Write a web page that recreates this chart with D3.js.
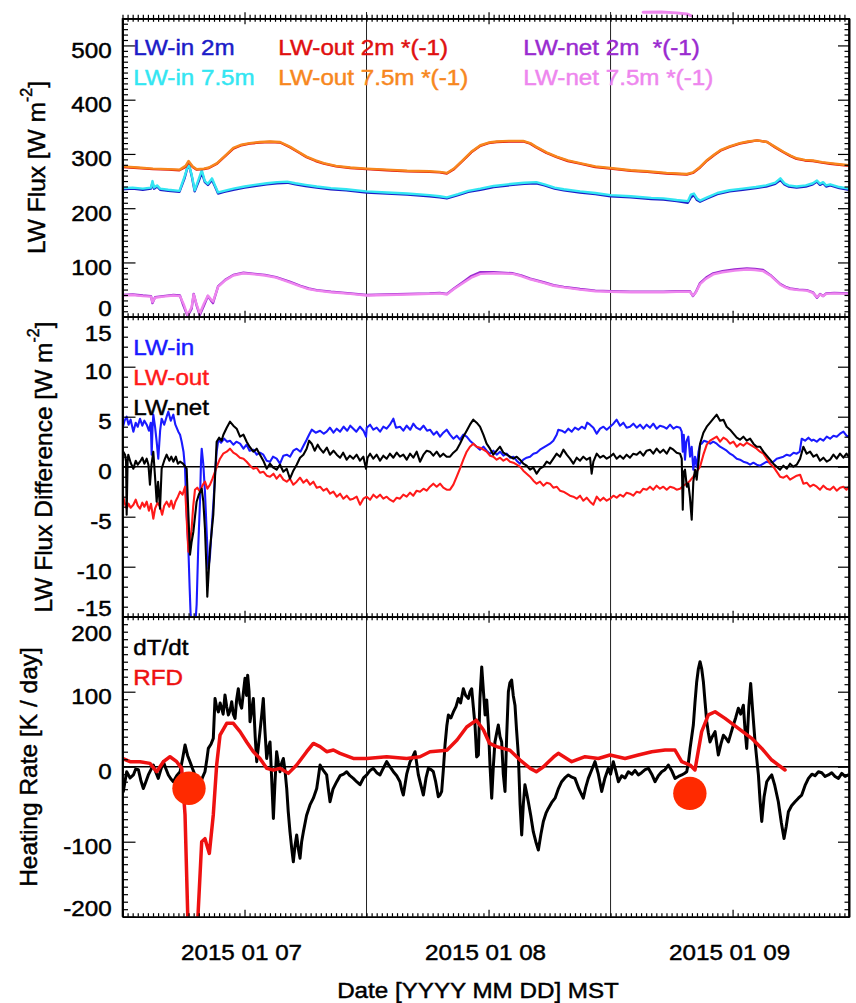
<!DOCTYPE html>
<html><head><meta charset="utf-8">
<script src="https://cdn.jsdelivr.net/npm/d3@7"></script>
<style>body{margin:0;background:#fff}svg{display:block}</style>
</head><body><svg id="chart" width="856" height="1003"></svg>
<script>
// ---------------- DATA (hours since 2015-01-07 00:00 MST, value) ----------------
const xTickHours = [12, 36, 60];
const xTickLabels = ["2015 01 07", "2015 01 08", "2015 01 09"];
const dayBoundaryHours = [24, 48];
const fluxTicks = [0, 100, 200, 300, 400, 500];
const diffTicks = [-15, -10, -5, 0, 5, 10, 15];
const heatTicks = [-200, -100, 0, 100, 200];

const lwIn2m = [[0,235],[1,236],[2,234],[2.8,236],[2.95,247],[3.1,236],[3.4,240],[3.7,234],[4.5,232],[5.6,230],[6.1,255],[6.5,283],[6.8,260],[7.1,231],[7.5,250],[7.8,266],[8.1,248],[8.4,243],[8.8,252],[9.1,240],[9.4,227],[10,230],[10.9,234],[12,238],[13,241],[14.2,244],[15.2,246],[16.2,247],[17,244],[18,241],[19.1,238],[20.5,235],[22,233],[24,229],[26,227],[28,225],[30.2,222],[31.2,220],[31.9,218],[33,224],[34,230],[35.2,234],[36.5,239],[38.4,243],[39.5,245],[40.7,246],[41.5,242],[42.5,236],[43.4,233],[45,229],[46.5,226],[48,222],[50,220],[52,217],[53.2,216],[54.5,213],[55.6,210],[55.9,220],[56.2,224],[56.5,215],[56.8,212],[57.5,218],[58.5,226],[59.7,231],[61,234],[62.3,237],[63.3,240],[64.2,245],[64.7,252],[65.1,244],[65.5,240],[66.3,238],[67.2,240],[67.9,244],[68.3,249],[68.6,243],[68.9,246],[69.2,240],[69.6,242],[70.5,237],[71.45,234]];
const lwIn75m = [[0,237],[1,238],[2,236],[2.8,238],[2.95,250],[3.1,238],[3.4,242],[3.7,236],[4.5,234],[5.6,232],[6.1,258],[6.5,282],[6.8,262],[7.1,233],[7.5,254],[7.8,270],[8.1,250],[8.4,245],[8.8,255],[9.1,242],[9.4,229],[10,232],[10.9,236],[12,240],[13,243],[14.2,246],[15.2,248],[16.2,249],[17,246],[18,243],[19.1,240],[20.5,237],[22,235],[24,231],[26,229],[28,227],[30.2,224],[31.2,222],[31.9,220],[33,226],[34,232],[35.2,236],[36.5,241],[38.4,245],[39.5,247],[40.7,248],[41.5,244],[42.5,238],[43.4,235],[45,231],[46.5,228],[48,224],[50,222],[52,219],[53.2,218],[54.5,215],[55.6,213],[55.9,225],[56.2,227],[56.5,218],[56.8,214],[57.5,220],[58.5,228],[59.7,233],[61,236],[62.3,239],[63.3,242],[64.2,247],[64.7,255],[65.1,246],[65.5,242],[66.3,240],[67.2,242],[67.9,246],[68.3,251],[68.6,245],[68.9,248],[69.2,242],[69.6,244],[70.5,239],[71.45,236]];
const lwOut2m = [[0,276],[1.5,274],[3,272],[4.5,271],[5.6,270],[6.2,276],[6.5,285],[6.9,276],[7.3,271],[8,272],[8.5,274],[9.3,282],[10.1,296],[10.9,310],[11.7,316],[12.5,319],[13.5,321],[14.5,322],[15.5,321],[16.5,312],[17.3,303],[18.1,294],[19,287],[19.8,282],[21,277],[22.4,274],[24,272],[26,270],[28,268],[30.2,267],[31.2,266],[31.9,264],[32.6,272],[33.5,288],[34.3,303],[35.2,315],[36,320],[36.8,322],[38,323],[39.4,323],[40.1,319],[40.7,312],[41.7,302],[42.7,294],[43.8,287],[45,282],[46.5,276],[48,273],[50,269],[51.6,267],[53.5,264],[55.5,262],[56.1,265],[56.8,275],[57.5,288],[58.2,298],[58.8,306],[59.7,313],[60.7,319],[61.5,322],[62.4,325],[63.4,322],[64.2,312],[65,303],[65.7,296],[66.3,291],[67.1,288],[67.9,287],[68.8,284],[69.6,282],[70.5,280],[71.45,278]];
const lwOut75m = [[0,277],[1.5,275],[3,273],[4.5,272],[5.6,271],[6.2,278],[6.5,287],[6.9,277],[7.3,272],[8,273],[8.5,275],[9.3,283],[10.1,297],[10.9,311],[11.7,317],[12.5,320],[13.5,322],[14.5,323],[15.5,322],[16.5,313],[17.3,304],[18.1,295],[19,288],[19.8,283],[21,278],[22.4,275],[24,273],[26,271],[28,269],[30.2,268],[31.2,267],[31.9,265],[32.6,273],[33.5,289],[34.3,304],[35.2,316],[36,321],[36.8,323],[38,324],[39.4,324],[40.1,320],[40.7,313],[41.7,303],[42.7,295],[43.8,288],[45,283],[46.5,277],[48,274],[50,270],[51.6,268],[53.5,265],[55.5,263],[56.1,266],[56.8,276],[57.5,289],[58.2,299],[58.8,307],[59.7,314],[60.7,320],[61.5,323],[62.4,325],[63.4,322],[64.2,313],[65,304],[65.7,297],[66.3,292],[67.1,289],[67.9,288],[68.8,285],[69.6,283],[70.5,281],[71.45,279]];
const lwNet2m = [[0,40],[1,41],[2,39],[2.8,38],[2.95,25],[3.2,36],[4,38],[5,40],[5.65,39],[6.0,20],[6.4,1],[6.8,15],[7.0,42],[7.3,20],[7.6,3],[8.0,20],[8.4,38],[8.7,30],[8.9,25],[9.4,56],[10.1,68],[10.9,77],[11.9,81],[13,79],[14,77],[15.1,73],[16.5,64],[17.5,57],[18.3,52],[19.1,49],[20.5,46],[22.4,43],[24,40],[26,41],[28,42],[30.2,43],[31.2,44],[31.9,42],[32.6,52],[33.5,64],[34.3,75],[35.2,82],[36.5,82],[38.4,80],[39.2,76],[40.1,70],[41.5,63],[42.4,58],[43.4,55],[45,51],[46.5,48],[48,47],[50,46],[52,46],[53.2,46],[54.5,47],[55.8,47],[56.1,38],[56.4,46],[56.8,62],[57.4,72],[58.1,80],[59,84],[60.2,87],[61.4,89],[62.2,88],[63,86],[63.7,77],[64.7,60],[65.2,55],[65.65,52],[66.5,50],[67.3,49],[67.9,45],[68.3,35],[68.6,42],[68.9,38],[69.2,43],[70,44],[71.45,43]];
const lwNet75m = [[0,39],[1,40],[2,38],[2.8,37],[2.95,27],[3.2,35],[4,37],[5,39],[5.65,38],[6.0,24],[6.4,3],[6.8,18],[7.0,41],[7.3,22],[7.6,6],[8.0,24],[8.4,39],[8.7,32],[8.9,28],[9.4,55],[10.1,67],[10.9,76],[11.9,80],[13,78],[14,76],[15.1,72],[16.5,63],[17.5,56],[18.3,51],[19.1,48],[20.5,45],[22.4,42],[24,39],[26,40],[28,41],[30.2,42],[31.2,43],[31.9,41],[32.6,51],[33.5,62],[34.3,72],[35.2,79],[36.5,80],[38.4,79],[39.2,75],[40.1,69],[41.5,62],[42.4,57],[43.4,54],[45,50],[46.5,47],[48,46],[50,45],[52,45],[53.2,45],[54.5,46],[55.8,46],[56.1,39],[56.4,45],[56.8,60],[57.4,70],[58.1,78],[59,82],[60.2,85],[61.4,87],[62.2,86],[63,84],[63.7,76],[64.7,59],[65.2,54],[65.65,51],[66.5,49],[67.3,48],[67.9,44],[68.3,36],[68.6,41],[68.9,38],[69.2,42],[70,43],[71.45,42]];
const lwNet75mAbove = [[51.2,561],[53,561.5],[54.5,560],[55.5,558],[55.9,555]];

const diffIn = [[0,3.8],[0.2,4.6],[0.41,5.0],[0.6,4.2],[0.8,4.7],[1.07,3.5],[1.3,4.4],[1.5,4.0],[1.72,4.8],[1.95,4.1],[2.15,4.6],[2.38,4.2],[2.6,3.6],[2.78,4.4],[2.87,1.2],[2.95,3.8],[3.03,5.2],[3.2,4.0],[3.36,2.5],[3.52,0.8],[3.7,3.6],[3.85,4.8],[4.1,4.2],[4.34,5.0],[4.51,5.5],[4.75,4.6],[5.0,5.2],[5.2,4.2],[5.49,3.5],[5.66,3.2],[5.82,2.5],[6.0,1.5],[6.15,-0.2],[6.3,-4.5],[6.48,-8.2],[6.6,-12],[6.7,-14.8],[6.9,-16.2],[7.03,-15.5],[7.15,-16],[7.29,-13.8],[7.45,-8],[7.62,-3.5],[7.72,0.5],[7.79,1.8],[7.95,0.2],[8.11,-2.5],[8.3,-7],[8.44,-10.2],[8.6,-9],[8.77,-6.2],[8.95,-3.5],[9.1,-0.8],[9.26,1.5],[9.43,2.7],[9.7,2.4],[10.0,2.8],[10.3,2.5],[10.57,2.6],[10.9,2.2],[11.2,2.5],[11.56,2.3],[11.9,1.8],[12.2,2.2],[12.5,1.6],[12.87,1.7],[13.2,1.2],[13.52,1.4],[13.85,1.2],[14.18,0.6],[14.51,0.5],[14.8,1.0],[15.16,0.8],[15.49,0.3],[15.82,1.1],[16.15,1.2],[16.47,1.0],[16.8,1.6],[17.13,1.8],[17.5,1.5],[17.8,2.1],[18.11,2.7],[18.35,3.2],[18.61,3.7],[19.0,3.4],[19.43,3.6],[19.8,3.3],[20.08,3.5],[20.4,3.9],[20.75,3.4],[21.07,3.8],[21.4,3.5],[21.75,4.0],[22.1,3.6],[22.4,4.1],[22.7,3.8],[23.0,3.5],[23.36,4.0],[23.7,3.6],[23.95,3.0],[24.02,3.9],[24.35,4.2],[24.67,3.7],[25.0,3.9],[25.33,3.5],[25.65,4.0],[25.98,3.8],[26.3,4.2],[26.64,4.8],[26.9,3.9],[27.29,4.0],[27.62,3.6],[27.95,4.1],[28.3,3.7],[28.6,4.3],[28.9,3.9],[29.26,3.7],[29.6,4.1],[29.95,3.6],[30.24,3.7],[30.6,3.2],[30.9,3.5],[31.23,3.0],[31.55,3.4],[31.88,3.7],[32.21,3.2],[32.54,2.8],[32.87,3.1],[33.19,2.7],[33.52,3.2],[33.85,3.0],[34.17,2.6],[34.5,2.3],[34.83,2.0],[35.16,1.7],[35.5,2.0],[35.81,1.6],[36.14,1.3],[36.47,1.6],[36.8,1.2],[37.13,1.5],[37.46,1.1],[37.79,1.3],[38.11,0.9],[38.44,1.0],[38.77,0.6],[39.09,0.3],[39.42,0.7],[39.75,0.9],[40.08,1.0],[40.41,1.3],[40.73,1.4],[41.06,1.7],[41.39,1.9],[41.72,2.1],[42.04,2.3],[42.37,2.6],[42.7,3.2],[42.86,3.7],[43.2,3.6],[43.52,3.4],[43.85,3.8],[44.18,3.5],[44.5,3.9],[44.83,3.7],[45.16,4.0],[45.48,3.8],[45.7,4.4],[45.98,4.2],[46.31,3.9],[46.64,3.3],[46.97,3.8],[47.3,4.0],[47.62,3.7],[47.95,4.0],[48.28,4.3],[48.6,4.7],[48.93,4.1],[49.26,4.4],[49.58,3.9],[49.91,4.0],[50.24,4.3],[50.57,3.9],[50.9,4.2],[51.22,3.8],[51.55,4.2],[51.88,3.9],[52.2,4.3],[52.53,3.8],[52.86,4.1],[53.19,4.0],[53.52,3.8],[53.85,4.2],[54.18,3.8],[54.5,4.0],[54.83,3.9],[55.0,3.5],[55.1,1.5],[55.2,3.2],[55.32,0.7],[55.45,2.5],[55.65,3.0],[55.82,1.0],[55.98,2.0],[56.14,-0.3],[56.3,1.0],[56.47,0],[56.65,1.5],[56.8,2.2],[56.96,2.3],[57.2,2.6],[57.46,2.5],[57.8,2.3],[58.1,2.5],[58.44,2.3],[58.77,2.0],[59.1,1.8],[59.42,1.6],[59.75,1.3],[60.08,1.1],[60.41,0.8],[60.73,0.7],[61.06,0.5],[61.39,0.4],[61.72,0.2],[62.05,0.4],[62.37,0.2],[62.7,0.1],[63.03,0.3],[63.36,0.5],[63.69,0.4],[64.01,0.5],[64.34,0.8],[64.67,0.9],[65.0,1.0],[65.33,1.2],[65.65,1.1],[66.0,1.4],[66.31,1.3],[66.6,1.5],[66.8,2.8],[67.13,2.6],[67.46,2.9],[67.79,2.6],[67.95,2.7],[68.28,2.5],[68.6,2.8],[68.93,2.6],[69.26,3.0],[69.59,2.8],[69.92,3.1],[70.24,3.0],[70.57,3.3],[70.9,3.5],[71.2,3.1],[71.45,3.0]];
const diffOut = [[0,-2.7],[0.2,-3.6],[0.41,-4.2],[0.6,-3.7],[0.8,-4.1],[1.07,-3.8],[1.3,-3.3],[1.5,-3.9],[1.72,-4.2],[1.95,-3.6],[2.15,-4.0],[2.38,-3.5],[2.6,-4.4],[2.8,-3.7],[3.03,-5.2],[3.2,-4.2],[3.45,-3.6],[3.69,-4.0],[3.9,-4.8],[4.1,-3.9],[4.34,-3.5],[4.6,-4.0],[4.8,-3.4],[5.0,-4.2],[5.2,-3.5],[5.45,-3.0],[5.66,-2.5],[5.9,-2.8],[6.15,-2.0],[6.3,-5.0],[6.48,-8.5],[6.65,-7.5],[6.8,-6.2],[6.95,-4],[7.13,-2.3],[7.35,-2.1],[7.62,-2.5],[7.85,-1.9],[8.11,-1.5],[8.35,-2.2],[8.61,-1.8],[8.85,-1.2],[9.1,-0.5],[9.35,0.2],[9.59,0.8],[9.9,1.3],[10.25,1.5],[10.57,1.8],[10.9,1.4],[11.23,1.2],[11.55,0.9],[11.9,0.8],[12.21,0.5],[12.55,0.1],[12.87,-0.2],[13.2,-0.1],[13.52,-0.6],[13.85,-0.5],[14.18,-0.9],[14.51,-1.0],[14.85,-0.7],[15.16,-1.2],[15.49,-0.8],[15.82,-1.3],[16.15,-1.5],[16.47,-1.2],[16.8,-1.8],[17.13,-1.5],[17.46,-1.1],[17.79,-1.6],[18.11,-1.3],[18.44,-1.8],[18.77,-1.5],[19.1,-2.1],[19.43,-2.0],[19.76,-2.4],[20.08,-2.2],[20.41,-2.7],[20.74,-2.5],[21.07,-3.0],[21.4,-2.7],[21.72,-3.2],[22.05,-2.9],[22.37,-3.3],[22.7,-3.2],[23.03,-3.0],[23.36,-3.8],[23.69,-3.2],[24.02,-3.0],[24.35,-3.3],[24.67,-2.8],[25.0,-3.1],[25.33,-2.8],[25.65,-3.2],[25.98,-3.0],[26.3,-3.3],[26.64,-3.5],[26.97,-3.1],[27.29,-3.2],[27.62,-2.8],[27.95,-3.0],[28.28,-2.6],[28.6,-2.9],[28.93,-2.4],[29.26,-2.5],[29.6,-2.2],[29.92,-2.4],[30.24,-2.0],[30.57,-1.7],[30.9,-2.0],[31.23,-1.7],[31.55,-2.1],[31.88,-2.3],[32.21,-2.3],[32.54,-1.8],[32.87,-1.0],[33.19,-0.2],[33.52,0.7],[33.85,1.5],[34.17,2.0],[34.5,2.3],[34.83,2.0],[35.16,1.9],[35.49,1.7],[35.81,1.5],[36.14,1.1],[36.47,1.0],[36.8,0.7],[37.13,0.9],[37.46,0.6],[37.79,0.8],[38.11,0.5],[38.44,0.4],[38.77,0.2],[39.09,0.0],[39.42,-0.4],[39.75,-0.7],[40.08,-1.0],[40.41,-1.4],[40.73,-1.7],[41.06,-1.5],[41.39,-1.9],[41.72,-1.6],[42.04,-1.7],[42.37,-2.1],[42.7,-2.0],[43.03,-2.4],[43.36,-2.5],[43.69,-2.7],[44.01,-2.9],[44.34,-3.0],[44.67,-3.2],[45.0,-2.9],[45.32,-3.4],[45.65,-3.1],[45.98,-3.5],[46.31,-3.8],[46.64,-3.0],[46.97,-3.4],[47.3,-3.1],[47.62,-3.4],[47.95,-3.2],[48.28,-2.9],[48.6,-3.1],[48.93,-2.8],[49.26,-3.0],[49.58,-2.6],[49.91,-2.7],[50.24,-2.9],[50.57,-2.5],[50.9,-2.6],[51.22,-2.2],[51.55,-2.3],[51.88,-2.0],[52.2,-2.3],[52.53,-1.9],[52.86,-2.2],[53.19,-2.0],[53.52,-2.3],[53.85,-2.0],[54.18,-2.1],[54.5,-2.3],[54.83,-2.2],[55.16,-1.9],[55.49,-1.7],[55.82,-1.4],[56.14,-1.0],[56.47,-0.5],[56.8,0],[57.13,1.2],[57.46,2.2],[57.79,2.6],[58.11,2.8],[58.44,3.0],[58.77,2.5],[59.1,2.9],[59.42,2.7],[59.75,2.3],[60.08,2.5],[60.41,2.0],[60.73,2.3],[61.06,2.1],[61.39,2.4],[61.72,2.2],[62.05,2.0],[62.37,1.8],[62.7,1.5],[63.03,1.3],[63.36,0.8],[63.69,0.3],[64.01,0],[64.34,-0.5],[64.67,-1.0],[65.0,-1.1],[65.33,-0.9],[65.65,-1.3],[65.98,-1.1],[66.31,-0.9],[66.64,-0.8],[66.96,-1.7],[67.29,-1.6],[67.62,-2.0],[67.95,-1.8],[68.28,-2.0],[68.6,-2.3],[68.93,-1.9],[69.26,-2.2],[69.59,-2.3],[69.92,-2.0],[70.24,-2.4],[70.57,-2.1],[70.9,-2.0],[71.2,-2.3],[71.45,-2.0]];
const diffNet = [[0,0.8],[0.08,1.5],[0.25,1.2],[0.35,0.5],[0.41,-4.8],[0.5,0.5],[0.57,1.2],[0.8,0.4],[1.07,-0.2],[1.3,0.6],[1.5,0.2],[1.72,0.5],[1.95,0.9],[2.15,0.3],[2.38,0.8],[2.55,0.2],[2.7,-1.8],[2.85,0.2],[3.03,1.5],[3.2,-1.0],[3.36,-3.5],[3.5,-1.5],[3.69,-4.2],[3.85,-0.2],[4.1,0.6],[4.34,1.2],[4.6,0.6],[4.8,1.0],[5.0,0.5],[5.25,1.0],[5.45,0.3],[5.66,0.5],[5.95,0.3],[6.31,-0.2],[6.45,-4],[6.64,-8.8],[6.8,-7.5],[6.97,-6.5],[7.13,-5],[7.29,-3.5],[7.5,-2.8],[7.79,-2.2],[7.95,-3.5],[8.11,-6.2],[8.25,-10],[8.34,-13],[8.45,-11],[8.61,-8.2],[8.77,-6.5],[8.93,-4.8],[9.1,-1.0],[9.26,2.5],[9.5,2.9],[9.75,2.6],[9.92,3.2],[10.25,3.9],[10.57,4.5],[10.9,4.1],[11.23,3.8],[11.56,3.0],[11.9,3.2],[12.21,2.5],[12.5,2.0],[12.87,1.5],[13.2,1.8],[13.52,1.2],[13.85,0.6],[14.18,-0.2],[14.5,0.3],[14.84,-0.1],[15.16,-0.3],[15.49,0.2],[15.82,-0.5],[16.15,-0.2],[16.47,-1.2],[16.8,-0.4],[17.13,0.2],[17.46,0.9],[17.79,1.2],[18.11,1.8],[18.35,2.6],[18.61,2.3],[18.9,1.6],[19.2,2.2],[19.43,1.8],[19.75,1.4],[20.1,1.9],[20.4,1.2],[20.75,1.6],[21.07,1.2],[21.4,0.9],[21.7,1.4],[22.05,0.7],[22.37,1.1],[22.7,0.8],[23.03,1.2],[23.36,0.6],[23.69,1.0],[23.95,-0.2],[24.1,0.9],[24.35,1.3],[24.67,0.8],[25.0,1.2],[25.33,0.6],[25.65,1.1],[25.98,0.8],[26.3,1.3],[26.64,0.9],[26.97,1.4],[27.29,1.0],[27.62,1.2],[27.95,0.7],[28.28,1.3],[28.6,0.9],[28.93,1.5],[29.26,0.5],[29.6,1.2],[29.92,1.6],[30.24,1.5],[30.57,1.1],[30.9,1.5],[31.23,1.0],[31.55,1.3],[31.88,1.0],[32.21,1.0],[32.54,1.4],[32.87,1.7],[33.19,2.3],[33.52,3.0],[33.85,3.6],[34.17,4.2],[34.5,4.7],[34.83,4.4],[35.16,4.0],[35.49,3.2],[35.81,2.3],[36.14,1.8],[36.47,1.2],[36.8,1.6],[37.13,2.0],[37.46,1.4],[37.79,1.2],[38.11,1.0],[38.44,0.8],[38.77,1.0],[39.09,0.7],[39.42,0.3],[39.75,0.1],[40.08,-0.3],[40.41,-0.1],[40.73,-0.7],[41.06,-0.2],[41.39,0],[41.72,0.5],[42.04,0.3],[42.37,0.8],[42.7,1.3],[43.03,1.0],[43.36,1.7],[43.69,1.2],[44.01,0.8],[44.34,0.3],[44.67,0.9],[45.0,0.6],[45.32,1.0],[45.65,0.7],[45.98,0.9],[46.14,-0.7],[46.31,0.5],[46.64,1.3],[46.97,0.9],[47.3,1.1],[47.62,0.8],[47.95,1.0],[48.28,1.3],[48.6,0.8],[48.93,1.1],[49.26,0.8],[49.58,1.2],[49.91,0.9],[50.24,1.3],[50.57,1.2],[50.9,1.5],[51.22,1.1],[51.55,1.6],[51.88,1.7],[52.2,1.3],[52.53,1.8],[52.86,1.4],[53.19,1.7],[53.52,1.3],[53.85,1.9],[54.18,1.7],[54.5,1.4],[54.83,1.3],[55.0,0.8],[55.1,-4.3],[55.2,-0.5],[55.32,-0.3],[55.5,-2.0],[55.65,-1.7],[55.8,-3.0],[55.98,-5.3],[56.14,-1.5],[56.31,-0.3],[56.47,-1.3],[56.65,0.5],[56.8,2.3],[57.13,3.4],[57.46,4.0],[57.79,4.4],[58.11,4.8],[58.44,5.2],[58.77,4.6],[59.1,4.7],[59.42,4.0],[59.75,3.7],[60.08,3.3],[60.41,2.9],[60.73,2.7],[61.06,3.0],[61.39,2.6],[61.72,2.8],[62.05,2.3],[62.37,2.0],[62.7,2.0],[63.03,1.5],[63.36,1.1],[63.69,0.7],[64.01,0.3],[64.34,0],[64.67,-0.3],[65.0,0.1],[65.33,-0.2],[65.65,0.3],[65.98,0.0],[66.31,0.2],[66.64,0.8],[66.96,2.0],[67.29,1.3],[67.62,1.5],[67.95,1.0],[68.28,1.2],[68.6,0.6],[68.93,0.9],[69.26,0.5],[69.59,0.7],[69.92,1.2],[70.24,0.8],[70.57,1.3],[70.9,0.9],[71.2,1.3],[71.45,1.0]];

const dTdt = [[0,-20],[0.08,-33],[0.41,-6.7],[0.75,-15],[1.07,-11],[1.3,-3],[1.56,-4],[1.8,-18],[2.05,-29],[2.3,-20],[2.54,-11],[2.8,-4],[3.03,2.2],[3.3,-8],[3.52,-15.6],[3.75,-5],[4.02,6.7],[4.25,-2],[4.51,-11],[4.75,-16],[5.0,-20],[5.33,-12],[5.66,-6.7],[5.9,10],[6.15,29],[6.4,15],[6.64,6.7],[6.9,-3],[7.13,-11],[7.4,-18],[7.62,-24],[7.85,-15],[8.11,-6.7],[8.3,10],[8.44,24.4],[8.7,30],[8.93,37.8],[9.1,91],[9.25,80],[9.43,73],[9.6,85],[9.75,78],[9.9,70],[10.08,95.6],[10.25,80],[10.41,69],[10.58,75],[10.74,86.7],[10.9,70],[11.07,64.4],[11.23,90],[11.39,104],[11.55,85],[11.72,78],[11.9,100],[12.05,118],[12.2,95],[12.31,122],[12.45,100],[12.54,60],[12.7,75],[12.87,91],[13.05,40],[13.2,6.7],[13.35,25],[13.52,46.7],[13.7,70],[13.85,91],[14.0,50],[14.18,11],[14.35,25],[14.51,33],[14.65,-10],[14.84,-69],[15.0,-20],[15.16,20],[15.33,5],[15.49,-6.7],[15.65,5],[15.82,11],[15.98,-5],[16.15,-29],[16.3,-60],[16.47,-86.7],[16.65,-110],[16.8,-126.7],[16.97,-105],[17.13,-91],[17.3,-110],[17.46,-122],[17.62,-100],[17.79,-86.7],[18.1,-65],[18.44,-51],[18.77,-42],[19.1,-29],[19.25,-15],[19.43,2.2],[19.75,-5],[20.08,-11],[20.25,-30],[20.41,-46.7],[20.7,-30],[21.07,-20],[21.4,-12],[21.75,-10],[22.05,-6.7],[22.37,-12],[22.7,-15.6],[23.03,-20],[23.36,-24],[23.7,-15],[24.02,-11],[24.35,-5],[24.67,-2.2],[25.0,-8],[25.33,-11],[25.65,-2],[25.98,6.7],[26.3,0],[26.64,-6.7],[26.97,-12],[27.29,-20],[27.45,-30],[27.62,-37.8],[27.95,-10],[28.28,6.7],[28.5,12],[28.77,20],[28.93,5],[29.1,-11],[29.35,-25],[29.59,-37.8],[29.85,-15],[30.08,-2.2],[30.35,-4],[30.57,-6.7],[30.8,-20],[31.06,-40],[31.22,-38],[31.39,-33],[31.55,-5],[31.72,29],[31.9,55],[32.05,69],[32.3,65],[32.54,73],[32.8,80],[33.03,91],[33.25,85],[33.52,104],[33.75,95],[34.02,91],[34.18,100],[34.34,104],[34.5,80],[34.67,55.6],[34.83,13],[35.0,15.6],[35.15,90],[35.33,133],[35.5,100],[35.66,69],[35.82,89],[35.98,55.6],[36.15,0],[36.31,-42],[36.47,0],[36.63,33],[36.8,45],[36.96,55.6],[37.13,40],[37.29,33],[37.45,-10],[37.62,-33],[37.78,40],[37.95,100],[38.1,112],[38.27,115.6],[38.43,95],[38.6,82],[38.75,50],[38.93,15.6],[39.1,-50],[39.26,-91],[39.42,-50],[39.58,-24],[39.75,-35],[39.91,-46.7],[40.15,-65],[40.4,-86.7],[40.65,-100],[40.9,-111],[41.15,-90],[41.39,-73],[41.65,-62],[41.88,-55.6],[42.2,-48],[42.54,-42],[42.85,-30],[43.19,-20],[43.5,-15],[43.85,-11],[44.2,-14],[44.5,-15.6],[44.9,-30],[45.32,-42],[45.55,-28],[45.81,-15.6],[46.15,-4],[46.47,6.7],[46.8,-10],[47.13,-33],[47.45,-15],[47.78,-2.2],[48.0,-10],[48.27,6.7],[48.5,-5],[48.77,-20],[49.1,-12],[49.42,-15],[49.75,-6.7],[50.1,-10],[50.4,-5],[50.73,-11],[51.05,-8],[51.4,-4],[51.72,-2.2],[52.05,-10],[52.37,-20],[52.7,-12],[53.03,-6.7],[53.35,-4],[53.68,2.2],[54.0,-5],[54.34,-15.6],[54.67,-13],[55.0,-11],[55.25,-9],[55.49,-6.7],[55.65,5],[55.82,24.4],[55.98,40],[56.14,55.6],[56.3,85],[56.47,113],[56.63,130],[56.8,140],[56.97,130],[57.13,113],[57.3,85],[57.46,60],[57.62,45],[57.78,33],[58.0,40],[58.28,46.7],[58.45,30],[58.6,15.6],[58.85,30],[59.1,42],[59.35,38],[59.59,33],[59.85,45],[60.08,55.6],[60.3,65],[60.57,78],[60.8,70],[61.06,82],[61.22,50],[61.39,24.4],[61.6,80],[61.78,111],[62.0,70],[62.21,33],[62.38,10],[62.54,-11],[62.7,-45],[62.87,-73],[63.1,-40],[63.36,-20],[63.6,-15],[63.85,-11],[64.15,-25],[64.5,-46.7],[64.8,-75],[65.06,-95.6],[65.27,-80],[65.49,-60],[65.8,-52],[66.14,-46.7],[66.47,-42],[66.8,-37.8],[67.13,-25],[67.46,-15.6],[67.8,-10],[68.11,-12],[68.44,-6.7],[68.77,-8],[69.1,-13],[69.42,-11],[69.75,-8],[70.08,-13],[70.41,-15.6],[70.74,-9],[71.07,-13],[71.39,-11]];
const rfd = [[0,11],[0.74,6.7],[1.72,6.7],[2.7,4.4],[3.36,-6.7],[4.02,6.7],[4.67,13.3],[5.33,6.7],[5.82,-2.2],[6.15,-64],[6.45,-215],[7.2,-215],[7.4,-205],[7.79,-100],[8.11,-96],[8.54,-115.6],[8.93,-64],[9.26,2.2],[9.59,42],[10.25,57.8],[10.9,57.8],[11.56,46.7],[12.21,33],[12.87,20],[13.52,11],[14.18,-2.2],[14.84,-4.4],[15.49,-2.2],[16.31,-8.9],[17.13,2.2],[18.11,20],[18.77,31],[19.43,26.7],[20.08,20],[20.74,22.2],[21.39,17.8],[22.7,11],[24.02,11],[25.98,13.3],[27.95,11],[29.26,13.3],[30.24,20],[31.9,22],[32.9,35.6],[33.85,53],[34.8,62],[35.5,49],[36.1,31],[36.8,26.7],[38.1,22],[39.1,8.9],[40.1,-2.2],[40.7,-6.7],[41.4,0],[42.4,13],[42.86,17.8],[44.18,6.7],[45.49,13.3],[46.8,11],[47.95,15.6],[49.42,11],[50.73,15.6],[52.05,20],[53.36,22.2],[54.34,22.2],[55.0,6.7],[55.82,2.2],[56.3,-4.4],[56.96,46.7],[57.62,69],[58.28,73.3],[59.26,64.4],[60.57,51],[61.88,37.8],[62.87,24.4],[63.85,8.9],[65.16,-4.4]];
const markedEvents = [[6.54,-28.8],[55.8,-35.5]];

// ---------------- LAYOUT ----------------
const FONT = "'Liberation Sans', Arial, Helvetica, sans-serif";
const FS = 22, SX = 1.1, TSW = 0.45;
const X0 = 122.5, X1 = 849;
const svg = d3.select("#chart");
svg.append("rect").attr("width",856).attr("height",1003).attr("fill","#fff");

const x = d3.scaleLinear().domain([0, 71.45]).range([X0, X1]);
const yFlux = d3.scaleLinear().domain([0, 550]).range([316.7, 18.3]);
const yDiff = d3.scaleLinear().domain([-15, 15]).range([616.7, 316.7]);
const yHeat = d3.scaleLinear().domain([-200, 200]).range([916.7, 616.7]);

function htext(x0, y0, str, color, anchor, fs) {
  return svg.append("text")
    .attr("transform", `translate(${x0},${y0}) scale(${SX},1)`)
    .attr("text-anchor", anchor || "start")
    .attr("font-family", FONT).attr("font-size", fs || FS)
    .attr("fill", color || "#000").attr("stroke", color || "#000").attr("stroke-width", TSW)
    .style("white-space", "pre").text(str);
}

const defs = svg.append("defs");
[["cFlux", yFlux], ["cDiff", yDiff], ["cHeat", yHeat]].forEach(([id, y]) => {
  const r = y.range();
  defs.append("clipPath").attr("id", id).append("rect")
    .attr("x", X0).attr("y", r[1]).attr("width", X1 - X0).attr("height", r[0] - r[1]);
});

function drawLine(data, y, color, width, clip) {
  const line = d3.line().x(d => x(d[0])).y(d => y(d[1]));
  const p = svg.append("path").datum(data).attr("d", line)
    .attr("fill", "none").attr("stroke", color).attr("stroke-width", width)
    .attr("stroke-linejoin", "round").attr("stroke-linecap", "round");
  if (clip) p.attr("clip-path", `url(#${clip})`);
  return p;
}

dayBoundaryHours.forEach(h => {
  svg.append("line").attr("x1", x(h)).attr("x2", x(h)).attr("y1", 12).attr("y2", 916.7)
    .attr("stroke", "#222").attr("stroke-width", 1);
});
[yDiff, yHeat].forEach(y => {
  svg.append("line").attr("x1", X0).attr("x2", X1).attr("y1", y(0)).attr("y2", y(0))
    .attr("stroke", "#000").attr("stroke-width", 1.6);
});

drawLine(lwIn2m, yFlux, "#1c1cc8", 2.4, "cFlux");
drawLine(lwIn75m, yFlux, "#33e6f2", 2.4, "cFlux");
drawLine(lwOut2m, yFlux, "#e01010", 2.4, "cFlux");
drawLine(lwOut75m, yFlux, "#f7871e", 2.4, "cFlux");
drawLine(lwNet2m, yFlux, "#9a2bd0", 2.4, "cFlux");
drawLine(lwNet75m, yFlux, "#ee86ee", 2.4, "cFlux");
drawLine(lwNet75mAbove, yFlux, "#ee86ee", 3, null);

drawLine(diffIn, yDiff, "#1a1aff", 2.1, "cDiff");
drawLine(diffOut, yDiff, "#ff1a1a", 2.1, "cDiff");
drawLine(diffNet, yDiff, "#000", 2.1, "cDiff");

drawLine(dTdt, yHeat, "#000", 3, "cHeat");
drawLine(rfd, yHeat, "#ee1111", 3.5, "cHeat");
svg.selectAll("circle.ev").data(markedEvents).enter().append("circle").attr("class","ev")
  .attr("cx", d => x(d[0])).attr("cy", d => yHeat(d[1])).attr("r", 16.7).attr("fill", "#ff2a00");

function styleAxis(g) {
  g.select(".domain").attr("stroke", "#000").attr("stroke-width", 1.6);
  g.selectAll(".tick line").attr("stroke", "#000").attr("stroke-width", 1.2);
}
function labelOff(v, d) { if (v === d[1]) return 24; if (v === d[0]) return -1; return 12; }

function drawYAxes(y, ticks, step) {
  const d = y.domain();
  const minors = d3.range(d[0], d[1] + step / 2, step).filter(v => !ticks.some(t => Math.abs(t - v) < 1e-6));
  const gm = svg.append("g").attr("transform", `translate(${X0},0)`)
    .call(d3.axisLeft(y).tickValues(minors).tickSize(-5.5).tickSizeOuter(0).tickFormat(""));
  styleAxis(gm);
  const gL = svg.append("g").attr("transform", `translate(${X0},0)`)
    .call(d3.axisLeft(y).tickValues(ticks).tickSize(-13).tickSizeOuter(0).tickFormat(v => String(v)));
  styleAxis(gL);
  gL.selectAll(".tick text").attr("x", 0).attr("dy", null)
    .attr("transform", v => `translate(-10.8,${labelOff(v, d)}) scale(${SX},1)`)
    .attr("font-size", FS).attr("font-family", FONT).attr("fill", "#000")
    .attr("stroke", "#000").attr("stroke-width", TSW);
  const gr = svg.append("g").attr("transform", `translate(${X1},0)`)
    .call(d3.axisRight(y).tickValues(minors).tickSize(-4.5).tickSizeOuter(0).tickFormat(""));
  styleAxis(gr);
  const gR = svg.append("g").attr("transform", `translate(${X1},0)`)
    .call(d3.axisRight(y).tickValues(ticks).tickSize(-11).tickSizeOuter(0).tickFormat(""));
  styleAxis(gR);
}
drawYAxes(yFlux, fluxTicks, 10);
drawYAxes(yDiff, diffTicks, 1);
drawYAxes(yHeat, heatTicks, 10);

const xMinor = d3.range(0, 71.45, 0.5).filter(h => !xTickHours.includes(h));
function crossAxis(yPos) {
  [d3.axisTop, d3.axisBottom].forEach(ax => {
    const g1 = svg.append("g").attr("transform", `translate(0,${yPos})`)
      .call(ax(x).tickValues(xMinor).tickSize(3.5).tickSizeOuter(0).tickFormat(""));
    styleAxis(g1);
    const g2 = svg.append("g").attr("transform", `translate(0,${yPos})`)
      .call(ax(x).tickValues(xTickHours).tickSize(6).tickSizeOuter(0).tickFormat(""));
    styleAxis(g2);
  });
}
crossAxis(yFlux.range()[1]);
crossAxis(yFlux.range()[0]);
crossAxis(yDiff.range()[0]);

const yB = yHeat.range()[0];
const gbm = svg.append("g").attr("transform", `translate(0,${yB})`)
  .call(d3.axisBottom(x).tickValues(xMinor).tickSize(-3.5).tickSizeOuter(0).tickFormat(""));
styleAxis(gbm);
const gb = svg.append("g").attr("transform", `translate(0,${yB})`)
  .call(d3.axisBottom(x).tickValues(xTickHours).tickSize(-7).tickSizeOuter(0)
    .tickFormat((h, i) => xTickLabels[i]));
styleAxis(gb);
gb.selectAll(".tick text").attr("y", 0).attr("dy", null)
  .attr("transform", `translate(-3.5,43.3) scale(${SX},1)`)
  .attr("font-size", FS).attr("font-family", FONT).attr("fill", "#000")
  .attr("stroke", "#000").attr("stroke-width", TSW);

svg.append("line").attr("x1", X0).attr("x2", X0).attr("y1", 18.3).attr("y2", 916.7).attr("stroke", "#000").attr("stroke-width", 1.6);
svg.append("line").attr("x1", X1).attr("x2", X1).attr("y1", 18.3).attr("y2", 916.7).attr("stroke", "#000").attr("stroke-width", 1.6);

function vtitle(cx, cy, main, sup, tail) {
  const t = svg.append("text").attr("transform", `translate(${cx},${cy}) rotate(-90)`)
    .attr("text-anchor", "middle").attr("font-family", FONT).attr("font-size", 24.5)
    .attr("fill", "#000").attr("stroke", "#000").attr("stroke-width", TSW);
  t.append("tspan").text(main);
  if (sup) {
    t.append("tspan").attr("dy", -13).attr("font-size", 16).text(sup);
    t.append("tspan").attr("dy", 13).text(tail);
  }
}
vtitle(45, 167.5, "LW Flux [W m", "-2", "]");
vtitle(52, 467, "LW Flux Difference [W m", "-2", "]");
vtitle(37, 767, "Heating Rate [K / day]");
htext(478, 998, "Date [YYYY MM DD] MST", "#000", "middle");

htext(133.3, 55, "LW-in 2m", "#1c1cc8");
htext(133.3, 85, "LW-in 7.5m", "#33e6f2");
htext(278.3, 55, "LW-out 2m *(-1)", "#e01010");
htext(278.3, 85, "LW-out 7.5m *(-1)", "#f7871e");
htext(523.3, 55, "LW-net 2m  *(-1)", "#9a2bd0");
htext(523.3, 85, "LW-net 7.5m *(-1)", "#ee86ee");

htext(133.3, 355, "LW-in", "#1a1aff");
htext(133.3, 385, "LW-out", "#ff1a1a");
htext(133.3, 415, "LW-net", "#000");

htext(133.3, 655, "dT/dt", "#000");
htext(133.3, 685, "RFD", "#ee1111");
</script>
</body></html>
